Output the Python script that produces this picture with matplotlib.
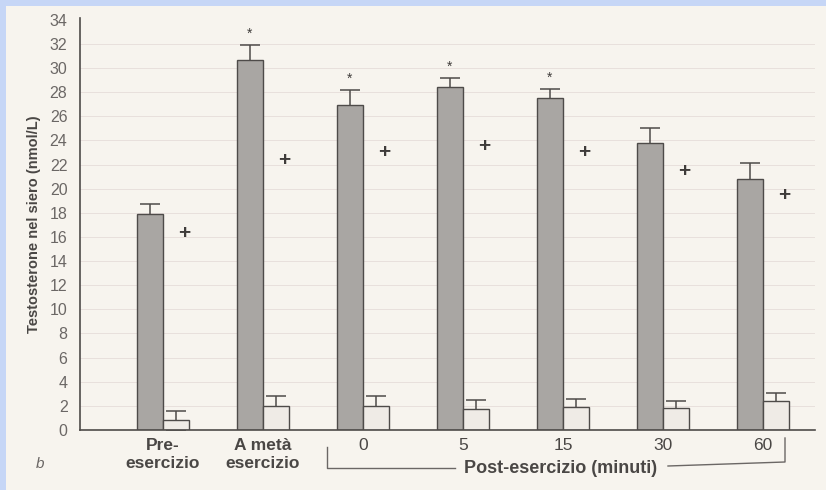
import numpy as np
import matplotlib.pyplot as plt
from matplotlib.patches import Rectangle

plt.rcParams['font.family'] = ['Liberation Sans', 'DejaVu Sans']

# testosterone values (nmol/L), grey = first group, white = second group
labels = ['Pre-\nesercizio', 'A metà\nesercizio', '0', '5', '15', '30', '60']
bold_label = [True, True, False, False, False, False, False]
grey_mean = [17.9, 30.7, 26.9, 28.4, 27.5, 23.8, 20.8]
grey_err = [0.8, 1.2, 1.3, 0.8, 0.8, 1.2, 1.3]
white_mean = [0.8, 2.0, 2.0, 1.7, 1.9, 1.8, 2.4]
white_err = [0.8, 0.8, 0.8, 0.8, 0.7, 0.6, 0.7]
star = [False, True, True, True, True, False, False]
plus_y = [16.3, 22.3, 23.0, 23.5, 23.0, 21.4, 19.4]

paper = '#f7f4ee'
ink = '#4e4b49'

fig = plt.figure(figsize=(8.26, 4.90), dpi=100)
fig.patch.set_facecolor('#c6d6f6')
# sheet of paper over the blue slide background
fig.patches.append(Rectangle((6 / 826, 0), 1, 1 - 6 / 490, transform=fig.transFigure,
                             facecolor=paper, edgecolor='none', zorder=-5))

ax = fig.add_axes([80 / 826, 60 / 490, (815 - 80) / 826, (430 - 18) / 490])
ax.set_facecolor('none')

x = np.arange(len(labels))
w = 0.26
ax.bar(x - w / 2, grey_mean, w, color='#a9a6a3', edgecolor=ink, linewidth=1.0, zorder=3)
ax.bar(x + w / 2, white_mean, w, color='#efebe6', edgecolor=ink, linewidth=1.0, zorder=3)
# error bars sit behind the bars, so only the upper half shows
ax.errorbar(x - w / 2, grey_mean, yerr=grey_err, fmt='none',
            ecolor=ink, elinewidth=1.1, capsize=7, capthick=1.1, zorder=2)
ax.errorbar(x + w / 2, white_mean, yerr=white_err, fmt='none',
            ecolor=ink, elinewidth=1.1, capsize=7, capthick=1.1, zorder=2)

for i in range(len(x)):
    if star[i]:
        ax.text(x[i] - w / 2, grey_mean[i] + grey_err[i] + 0.35, '*', ha='center', va='bottom',
                fontsize=10, color='#3f3c3a', zorder=5)
    ax.text(x[i] + w / 2 + 0.02, plus_y[i], '+', ha='left', va='center',
            fontsize=15, fontweight='bold', color='#3f3c3a', zorder=5)

# faint ruling behind the bars
for yv in range(2, 34, 2):
    ax.axhline(yv, color='#e8e0dc', lw=0.7, zorder=1)

ax.set_xlim(-0.83, 6.52)
ax.set_ylim(0, 34.15)
ax.set_yticks(range(0, 35, 2))
ax.tick_params(axis='y', length=0, labelsize=11.5, labelcolor='#6b6765', pad=9)
ax.tick_params(axis='x', length=0)
ax.set_xticks([])
for s in ['top', 'right']:
    ax.spines[s].set_visible(False)
ax.spines['left'].set_color(ink)
ax.spines['bottom'].set_color(ink)
ax.spines['left'].set_linewidth(1.2)
ax.spines['bottom'].set_linewidth(1.2)
ax.spines['bottom'].set_zorder(6)

ax.set_ylabel('Testosterone nel siero (nmol/L)', fontsize=10.5, fontweight='bold',
              color='#4a4745', labelpad=6)

for i, lab in enumerate(labels):
    ax.text(x[i], -0.7, lab, ha='center', va='top', fontsize=12.5, color='#4a4745',
            fontweight='bold' if bold_label[i] else 'normal', linespacing=1.25)

# bracket under the post-exercise groups
tr = fig.transFigure
lc = '#6b6765'
fig.lines.append(plt.Line2D([327 / 826, 327 / 826, 455 / 826], [1 - 447 / 490, 1 - 468 / 490, 1 - 468 / 490],
                            transform=tr, color=lc, lw=1.0))
fig.lines.append(plt.Line2D([668 / 826, 785 / 826, 785 / 826], [1 - 466 / 490, 1 - 462 / 490, 1 - 438 / 490],
                            transform=tr, color=lc, lw=1.0))
fig.text(561 / 826, 1 - 468 / 490, 'Post-esercizio (minuti)', ha='center', va='center',
         fontsize=13, fontweight='bold', color='#4a4745')
fig.text(40 / 826, 1 - 464 / 490, 'b', ha='center', va='center', fontsize=11,
         style='italic', color='#6b6765')

fig.savefig('out.png', dpi=100, facecolor=fig.get_facecolor())
